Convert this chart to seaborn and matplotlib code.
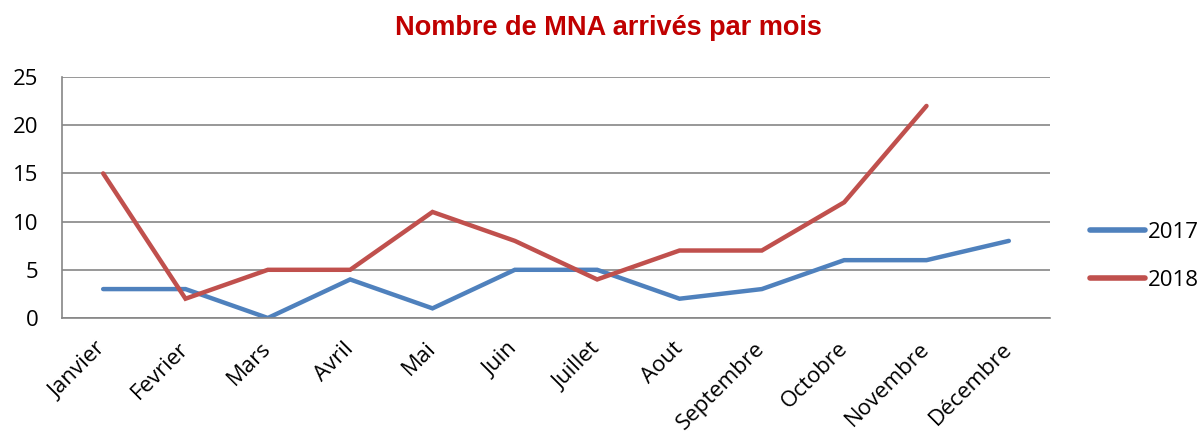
import matplotlib
matplotlib.use("Agg")
import matplotlib.pyplot as plt
import seaborn as sns
import pandas as pd
import numpy as np

months = ["Janvier", "Fevrier", "Mars", "Avril", "Mai", "Juin", "Juillet",
          "Aout", "Septembre", "Octobre", "Novembre", "Décembre"]
v2017 = [3, 3, 0, 4, 1, 5, 5, 2, 3, 6, 6, 8]
v2018 = [15, 2, 5, 5, 11, 8, 4, 7, 7, 12, 22, None]
yticks = [0, 5, 10, 15, 20, 25]
title = "Nombre de MNA arrivés par mois"

sns.set_style("white")
plt.rcParams["font.family"] = ["Open Sans", "DejaVu Sans"]
plt.rcParams["text.color"] = "black"
plt.rcParams["xtick.color"] = "black"
plt.rcParams["ytick.color"] = "black"

rows = []
for i, m in enumerate(months):
    rows.append({"idx": i, "mois": m, "année": "2017", "val": v2017[i]})
    rows.append({"idx": i, "mois": m, "année": "2018", "val": v2018[i]})
df = pd.DataFrame(rows).dropna()

fig = plt.figure(figsize=(12.04, 4.36), dpi=100)
ax = fig.add_axes([62/1204, 1-318/436, (1050-62)/1204, (318-77)/436])

sns.lineplot(data=df, x="idx", y="val", hue="année",
             palette={"2017": "#4F81BD", "2018": "#C0504D"},
             linewidth=3.2, ax=ax, legend=True)
for ln in ax.get_lines():
    ln.set_solid_capstyle("round")
    ln.set_solid_joinstyle("miter")

ax.set_xlim(-0.5, 11.5)
ax.set_ylim(0, 25)
ax.set_yticks(yticks)
ax.set_yticklabels([str(t) for t in yticks], fontsize=16)
ax.set_xticks(range(len(months)))
ax.set_xticklabels(months, rotation=45, ha="right", va="center",
                   rotation_mode="anchor", fontsize=16)
ax.tick_params(axis="y", length=0, pad=17, labelcolor="black")
ax.tick_params(axis="x", length=0, pad=20, labelcolor="black")
ax.set_xlabel("")
ax.set_ylabel("")
ax.grid(axis="y", color="#868686", linewidth=1.2)
ax.set_axisbelow(True)
for s in ["top", "right"]:
    ax.spines[s].set_visible(False)
for s in ["left", "bottom"]:
    ax.spines[s].set_color("#868686")
    ax.spines[s].set_linewidth(1.2)

leg = ax.legend(loc="center left", bbox_to_anchor=(1.02, 0.255), frameon=False,
                fontsize=16, handlelength=2.5, handletextpad=0.1, labelspacing=1.2)
for t in leg.get_texts():
    t.set_color("black")
for h in leg.get_lines():
    h.set_linewidth(4)
    h.set_solid_capstyle("round")

fig.text(608/1204, 1-28/436, title, ha="center", va="center", color="#C00000",
         fontsize=19.5, fontweight="bold", family=["Liberation Sans", "DejaVu Sans"])

fig.savefig("out.png", dpi=100)
